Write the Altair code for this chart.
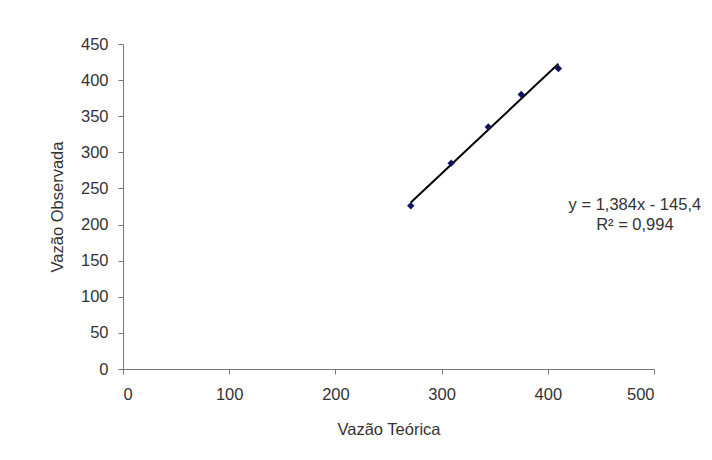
import altair as alt
import pandas as pd

# data
vazao_teorica = [271, 309, 344, 375, 410]
vazao_observada = [226, 285, 335, 380, 416]

eq_lines = ["y = 1,384x - 145,4", "R² = 0,994"]
eq_x = [482, 482]
eq_y = [227, 199]

x_ticks = [0, 100, 200, 300, 400, 500]
y_ticks = [0, 50, 100, 150, 200, 250, 300, 350, 400, 450]

df = pd.DataFrame({"x": vazao_teorica, "y": vazao_observada})
ann = pd.DataFrame({"x": eq_x, "y": eq_y, "t": eq_lines})

FONT = "Liberation Sans"
FS = 16.5

xscale = alt.Scale(domain=[0, 500], nice=False, zero=True)
yscale = alt.Scale(domain=[0, 450], nice=False, zero=True)

xaxis = alt.Axis(
    values=x_ticks, grid=False, title="Vazão Teórica", labelOverlap=False,
    tickSize=5, labelPadding=12, domainColor="#777", tickColor="#777",
    labelColor="#333", titleColor="#333", labelFont=FONT, titleFont=FONT,
    labelFontSize=FS, titleFontSize=FS, titleFontWeight="normal",
    titleY=60, titleBaseline="middle",
)
yaxis = alt.Axis(
    values=y_ticks, grid=False, title="Vazão Observada", labelOverlap=False,
    tickSize=5, labelPadding=10, domainColor="#777", tickColor="#777",
    labelColor="#333", titleColor="#333", labelFont=FONT, titleFont=FONT,
    labelFontSize=FS, titleFontSize=FS, titleFontWeight="normal",
    titleX=-66, titleBaseline="middle",
)

X = alt.X("x:Q", scale=xscale, axis=xaxis)
Y = alt.Y("y:Q", scale=yscale, axis=yaxis)

base = alt.Chart(df)

trend = base.transform_regression("x", "y").mark_line(
    color="black", strokeWidth=2
).encode(x=X, y=Y)

pts = base.mark_point(
    shape="diamond", filled=True, color="#14145a", size=55, opacity=1
).encode(x=X, y=Y)

txt = alt.Chart(ann).mark_text(
    font=FONT, fontSize=FS, color="#333", align="center", baseline="middle"
).encode(x=X, y=Y, text="t:N")

chart = alt.layer(trend, pts, txt).properties(
    width=531, height=325,
    background="white",
    autosize=alt.AutoSizeParams(type="none"),
    padding={"left": 115, "top": 36, "right": 50, "bottom": 80},
).configure_view(stroke=None)

chart.save("out.html", embed_options={"renderer": "svg", "actions": False})
